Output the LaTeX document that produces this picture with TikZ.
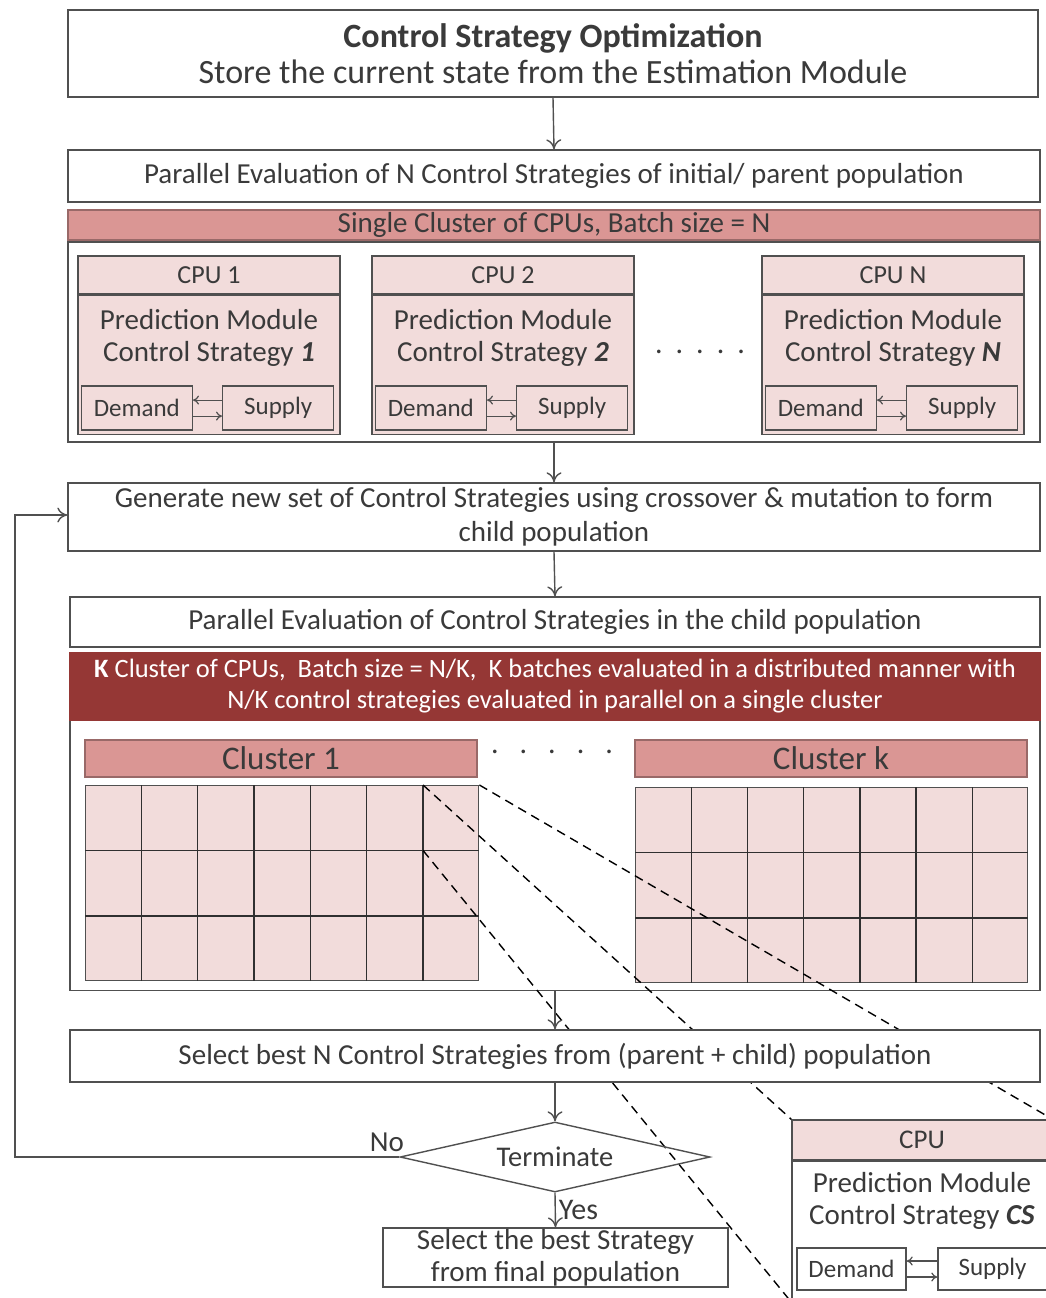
\documentclass[tikz,border=0pt]{standalone}
\usepackage{fontspec}
\setmainfont{Carlito}
\usetikzlibrary{arrows.meta,shapes.geometric,calc}
\definecolor{ink}{HTML}{3A3A3A}
\definecolor{edge}{HTML}{505050}
\definecolor{pinklight}{HTML}{F2DCDB}
\definecolor{pinkmid}{HTML}{DA9694}
\definecolor{darkred}{HTML}{953735}
% font size and baseline skip, both in pt
\newcommand{\fsz}[2]{\fontsize{#1pt}{#2pt}\selectfont}
\begin{document}
\begin{tikzpicture}[x=1pt,y=-1pt,line width=1.4pt,
  box/.style={draw=edge,fill=white,rectangle,inner sep=0pt,text=ink,align=center,font=\fsz{29}{34}},
  pinkbox/.style={box,fill=pinklight},
  midbar/.style={box,fill=pinkmid,draw=pinkmid!70!black},
  darkbar/.style={box,fill=darkred,draw=darkred,text=white},
  flow/.style={draw=edge,-{To[length=10pt,width=15pt]}},
  small/.style={draw=edge,-{To[length=6pt,width=9pt]},line width=1.2pt},
  zoomline/.style={draw=black,line width=1.4pt,dash pattern=on 9pt off 6pt},
  lbl/.style={text=ink,inner sep=0pt}
]
\path[use as bounding box,clip] (0,0) rectangle (1046,1298);
\fill[white] (0,0) rectangle (1046,1298);

% --- header and first evaluation stage ---
\node[box,minimum width=970,minimum height=87,font=\fsz{34}{36}] (top) at (553,53.5)
  {\textbf{Control Strategy Optimization}\\Store the current state from the Estimation Module};
\node[box,minimum width=972,minimum height=52] (eval1) at (554,176)
  {Parallel Evaluation of N Control Strategies of initial/ parent population};
\node[midbar,minimum width=972,minimum height=30,font=\fsz{29}{32}] (bar1) at (554,225)
  {Single Cluster of CPUs, Batch size = N};
\node[box,minimum width=972,minimum height=200] (outer1) at (554,342) {};

% one CPU: header, body, demand/supply pair
\newcommand{\cpuunit}[3]{%
  \node[pinkbox,minimum width=262,minimum height=38,font=\fsz{26}{30}] (#1h) at (#2,275) {#3};
  \node[pinkbox,minimum width=262,minimum height=139,anchor=north] (#1b) at (#1h.south) {};
  \node[lbl,font=\fsz{29}{32},align=center] (#1t) at ($(#1h.south)+(0,43)$)
    {Prediction Module\\Control Strategy \textbf{\textit{\cpulabel}}};
  \node[pinkbox,minimum width=111,minimum height=44,font=\fsz{25}{28}] (#1d) at ($(#1b.south west)+(59.5,-27)$) {Demand};
  \node[pinkbox,minimum width=111,minimum height=44,font=\fsz{25}{28}] (#1s) at ($(#1b.south east)+(-62.5,-27)$) {Supply};
  \draw[small] ($(#1s.west)+(0,-8)$) -- ($(#1d.east)+(0,-8)$);
  \draw[small] ($(#1d.east)+(0,8)$) -- ($(#1s.west)+(0,8)$);
}
\def\cpulabel{1}\cpuunit{cpua}{209}{CPU 1}
\def\cpulabel{2}\cpuunit{cpub}{503}{CPU 2}
\def\cpulabel{N}\cpuunit{cpun}{893}{CPU N}
\node[lbl,font=\fsz{30}{32}] (dots1) at (700,352) {.\hspace{13pt}.\hspace{13pt}.\hspace{13pt}.\hspace{13pt}.};

% --- offspring generation and distributed evaluation ---
\node[box,minimum width=972,minimum height=68] (gen) at (554,517)
  {Generate new set of Control Strategies using crossover \& mutation to form\\child population};
\node[box,minimum width=970,minimum height=50] (eval2) at (555,622)
  {Parallel Evaluation of Control Strategies in the child population};
\node[box,minimum width=970,minimum height=337,anchor=north] (outer2) at (555,653) {};
\node[darkbar,minimum width=970,minimum height=67,font=\fsz{26.5}{31}] (bar2) at (555,686.5)
  {\textbf{K} Cluster of CPUs,\ \ Batch size = N/K,\ \ K batches evaluated in a distributed manner with\\N/K control strategies evaluated in parallel on a single cluster};

\node[midbar,minimum width=392,minimum height=37,font=\fsz{33}{36}] (cl1) at (281,758.5) {Cluster 1};
\node[midbar,minimum width=392,minimum height=37,font=\fsz{33}{36}] (clk) at (831,758.5) {Cluster k};
\node[lbl,font=\fsz{30}{32}] (dots2) at (552,752) {.\hspace{21pt}.\hspace{21pt}.\hspace{21pt}.\hspace{21pt}.};

% CPU grids of the two clusters (7 x 3 cells)
\node[pinkbox,minimum width=393,minimum height=195,anchor=north west] (g1) at (85,785) {};
\node[pinkbox,minimum width=392,minimum height=195,anchor=north west] (gk) at (635,787) {};
\foreach \g in {g1,gk}{
  \foreach \i in {1,...,6}
    \draw[edge!60!black,line width=1.4pt] ($(\g.north west)!\i/7!(\g.north east)$) -- ($(\g.south west)!\i/7!(\g.south east)$);
  \foreach \j in {1,2}
    \draw[edge!60!black,line width=1.4pt] ($(\g.north west)!\j/3!(\g.south west)$) -- ($(\g.north east)!\j/3!(\g.south east)$);
}
\coordinate (celltl) at ($(g1.north west)!6/7!(g1.north east)$);
\coordinate (celltr) at (g1.north east);
\coordinate (cellbl) at ($(celltl)!1/3!($(g1.south west)!6/7!(g1.south east)$)$);

% enlarged CPU of one cell
\node[pinkbox,minimum width=260,minimum height=40,font=\fsz{27}{30}] (cpuh) at (922,1140) {CPU};
\node[box,minimum width=260,minimum height=140,anchor=north] (cpub) at (cpuh.south) {};
\node[lbl,font=\fsz{29}{32},align=center] (cput) at (922,1201) {Prediction Module\\Control Strategy \textbf{\textit{CS}}};
\node[box,minimum width=109,minimum height=42,font=\fsz{25}{28}] (cpud) at (851.5,1269) {Demand};
\node[box,minimum width=109,minimum height=42,font=\fsz{25}{28}] (cpus) at (992.5,1269) {Supply};
\draw[small] ($(cpus.west)+(0,-8)$) -- ($(cpud.east)+(0,-8)$);
\draw[small] ($(cpud.east)+(0,8)$) -- ($(cpus.west)+(0,8)$);

% zoom lines from the cell to the enlarged CPU
\draw[zoomline] (celltl) -- (cpuh.north west);
\draw[zoomline] (celltr) -- (cpuh.north east);
\draw[zoomline] (cellbl) -- (cpub.south west);

% --- selection and termination ---
\node[box,minimum width=970,minimum height=52] (select) at (555,1056)
  {Select best N Control Strategies from (parent + child) population};
\node[draw=edge,diamond,aspect=4.43,minimum width=310,minimum height=70,inner sep=0pt,text=ink,font=\fsz{28.5}{32}] (term) at (555,1157) {Terminate};
\node[box,minimum width=345,minimum height=59,font=\fsz{29}{32}] (final) at (555.5,1257.5)
  {Select the best Strategy\\from final population};

\draw[flow] (top.south) -- (eval1.north);
\draw[flow] (outer1.south) -- (gen.north);
\draw[flow] (gen.south) -- (eval2.north);
\draw[flow] (outer2.south) -- (select.north);
\draw[flow] (select.south) -- (term.north);
\draw[flow] (term.south) -- node[lbl,right=3pt,font=\fsz{30}{32}] (yes) {Yes} (final.north);
\coordinate (loopa) at (15,1157);
\coordinate (loopb) at (15,515);
\draw[flow] (term.west) -- (loopa) -- (loopb) -- (loopb -| gen.west);
\node[lbl,font=\fsz{29}{32}] (no) at (387,1142) {No};
\end{tikzpicture}
\end{document}
